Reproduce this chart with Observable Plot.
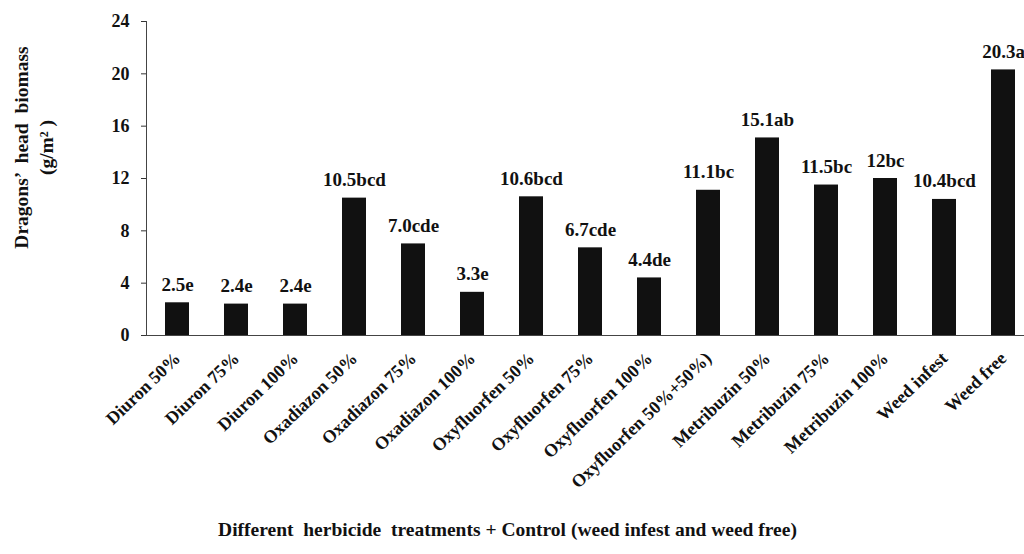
<!DOCTYPE html>
<html>
<head>
<meta charset="utf-8">
<script src="https://cdn.jsdelivr.net/npm/d3@7"></script>
<script src="https://cdn.jsdelivr.net/npm/@observablehq/plot@0.6"></script>
<style>
  html, body { margin: 0; padding: 0; background: #fff; overflow: hidden; }
  #chart svg { display: block; }
</style>
</head>
<body>
<div id="chart"></div>
<script>
// Herbicide treatments and controls
const treatments = [
  "Diuron 50%", "Diuron 75%", "Diuron 100%",
  "Oxadiazon 50%", "Oxadiazon 75%", "Oxadiazon 100%",
  "Oxyfluorfen 50%", "Oxyfluorfen 75%", "Oxyfluorfen 100%",
  "Oxyfluorfen 50%+50%)",
  "Metribuzin 50%", "Metribuzin 75%", "Metribuzin 100%",
  "Weed infest", "Weed free"
];

// Mean dragon's head biomass (g/m²), as printed above each bar
const meanText = ["2.5", "2.4", "2.4", "10.5", "7.0", "3.3", "10.6", "6.7", "4.4", "11.1", "15.1", "11.5", "12", "10.4", "20.3"];
const biomass = meanText.map(Number);

// Mean separation letters
const letters = ["e", "e", "e", "bcd", "cde", "e", "bcd", "cde", "de", "bc", "ab", "bc", "bc", "bcd", "a"];

const yTicks = [0, 4, 8, 12, 16, 20, 24];

const yTitle = "Dragons\u2019  head  biomass\n(g/m\u00B2 )";
const xTitle = "Different  herbicide  treatments + Control (weed infest and weed free)";

const rows = treatments.map((t, i) => ({
  treatment: t,
  biomass: biomass[i],
  label: meanText[i] + letters[i]
}));

const serif = '"Liberation Serif", "Times New Roman", Times, serif';

const chart = Plot.plot({
  width: 1024,
  height: 554,
  marginTop: 21,
  marginBottom: 219,
  marginLeft: 146,
  marginRight: 0,
  style: { fontFamily: serif, fontWeight: "bold", fontSize: "17px", color: "#111", background: "#fff" },
  x: { domain: treatments, range: [146, 1033], paddingInner: 0.6, paddingOuter: 0.3, align: 0.5, axis: null },
  y: { domain: [0, 24], axis: null },
  marks: [
    Plot.barY(rows, { x: "treatment", y: "biomass", fill: "#111" }),
    Plot.text(rows, {
      x: "treatment", y: "biomass", text: "label", dy: -12, lineAnchor: "bottom",
      fontSize: 19, letterSpacing: "0.6px", fill: "#111"
    }),
    Plot.axisY({ ticks: yTicks, tickSize: 5, tickPadding: 12, fontSize: 18, letterSpacing: "1px", label: null, stroke: "#333" }),
    Plot.axisX({ tickRotate: -44, tickSize: 0, tickPadding: 20, fontSize: 18, letterSpacing: "2.2px", label: null }),
    Plot.frame({ anchor: "left", stroke: "#444" }),
    Plot.frame({ anchor: "bottom", stroke: "#444" }),
    Plot.text([yTitle], {
      frameAnchor: "top-left", dx: -114, dy: 126, rotate: -90, textAnchor: "middle", lineAnchor: "middle",
      lineHeight: 1.3, fontSize: 19.5, letterSpacing: "3.3px", fill: "#111"
    }),
    Plot.text([xTitle], {
      frameAnchor: "bottom-left", dx: 361, dy: 200, textAnchor: "middle",
      fontSize: 19.5, letterSpacing: "1.1px", fill: "#111"
    })
  ]
});

document.getElementById("chart").appendChild(chart);
</script>
</body>
</html>
